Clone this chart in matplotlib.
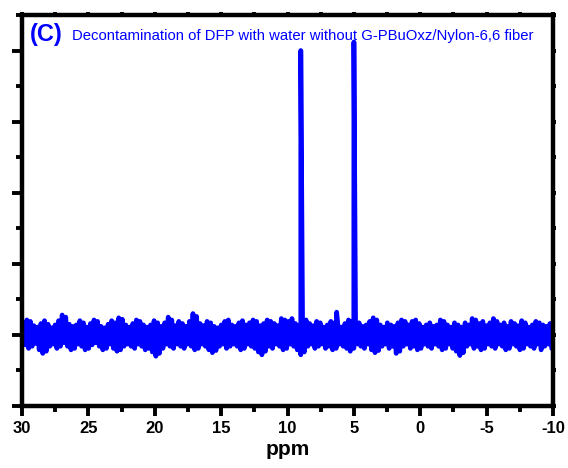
import matplotlib
matplotlib.use("Agg")
import matplotlib.pyplot as plt
import numpy as np
from matplotlib.ticker import MultipleLocator

plt.rcParams['font.family'] = ['Liberation Sans', 'DejaVu Sans']
plt.rcParams['axes.unicode_minus'] = False

# baseline noise: upper and lower excursions, left (30 ppm) to right (-10 ppm)
noise_hi = [0.17, 0.21, 0.19, 0.13, 0.11, 0.16, 0.20, 0.15, 0.10, 0.14, 0.20, 0.28, 0.25, 0.15, 0.12,
            0.14, 0.20, 0.17, 0.11, 0.16, 0.21, 0.19, 0.12, 0.10, 0.15, 0.20, 0.17, 0.24, 0.22, 0.14,
            0.11, 0.16, 0.21, 0.19, 0.14, 0.11, 0.14, 0.20, 0.17, 0.12, 0.17, 0.25, 0.21, 0.13, 0.19,
            0.16, 0.12, 0.19, 0.30, 0.26, 0.16, 0.13, 0.19, 0.17, 0.12, 0.10, 0.14, 0.19, 0.21, 0.14,
            0.12, 0.17, 0.20, 0.14, 0.17, 0.21, 0.19, 0.13, 0.16, 0.21, 0.19, 0.16, 0.13, 0.23, 0.21,
            0.19, 0.23, 0.16, 0.13, 0.19, 0.21, 0.16, 0.13, 0.19, 0.17, 0.11, 0.14, 0.19, 0.17, 0.13,
            0.11, 0.16, 0.21, 0.19, 0.14, 0.17, 0.12, 0.14, 0.19, 0.24, 0.21, 0.14, 0.11, 0.17, 0.14,
            0.12, 0.17, 0.21, 0.19, 0.14, 0.19, 0.21, 0.16, 0.11, 0.14, 0.17, 0.12, 0.14, 0.21, 0.19,
            0.14, 0.11, 0.17, 0.14, 0.11, 0.17, 0.14, 0.23, 0.21, 0.16, 0.19, 0.13, 0.17, 0.23, 0.19,
            0.14, 0.17, 0.12, 0.19, 0.16, 0.13, 0.20, 0.17, 0.11, 0.14, 0.19, 0.17, 0.14, 0.12, 0.16]
noise_lo = [-0.14, -0.19, -0.16, -0.12, -0.21, -0.26, -0.23, -0.16, -0.13, -0.19, -0.16, -0.11, -0.16, -0.21, -0.19,
            -0.13, -0.16, -0.21, -0.19, -0.14, -0.11, -0.16, -0.21, -0.19, -0.13, -0.19, -0.23, -0.21, -0.16, -0.13,
            -0.16, -0.19, -0.13, -0.16, -0.21, -0.19, -0.24, -0.30, -0.26, -0.19, -0.13, -0.16, -0.19, -0.13, -0.16,
            -0.19, -0.13, -0.16, -0.21, -0.19, -0.13, -0.16, -0.21, -0.25, -0.22, -0.16, -0.13, -0.19, -0.16, -0.13,
            -0.16, -0.21, -0.19, -0.13, -0.16, -0.19, -0.24, -0.28, -0.23, -0.16, -0.19, -0.13, -0.16, -0.21, -0.19,
            -0.13, -0.16, -0.21, -0.28, -0.24, -0.16, -0.13, -0.19, -0.16, -0.13, -0.19, -0.16, -0.21, -0.19, -0.13,
            -0.16, -0.19, -0.23, -0.19, -0.13, -0.16, -0.19, -0.13, -0.21, -0.25, -0.22, -0.16, -0.13, -0.19, -0.16,
            -0.26, -0.23, -0.16, -0.13, -0.19, -0.16, -0.21, -0.19, -0.13, -0.16, -0.19, -0.13, -0.16, -0.21, -0.19,
            -0.13, -0.19, -0.23, -0.29, -0.25, -0.16, -0.13, -0.19, -0.16, -0.21, -0.19, -0.13, -0.16, -0.19, -0.13,
            -0.16, -0.21, -0.19, -0.13, -0.16, -0.21, -0.19, -0.13, -0.16, -0.19, -0.13, -0.21, -0.16, -0.13, -0.19]

# signals
peak_ppm = [9.0, 6.3, 5.0]
peak_height = [4.0, 0.32, 4.12]

title = "Decontamination of DFP with water without G-PBuOxz/Nylon-6,6 fiber"
blue = '#0000ff'

noise = np.column_stack([noise_hi, noise_lo]).ravel()
ppm_grid = np.linspace(29.9, -9.9, len(noise))
ppm = np.concatenate([ppm_grid, peak_ppm])
inten = np.concatenate([noise, peak_height])
order = np.argsort(-ppm)
ppm, inten = ppm[order], inten[order]

fig = plt.figure(figsize=(5.68, 4.68), dpi=100)
ax = fig.add_axes([0.0387, 0.1325, 0.935, 0.8355])
ax.plot(ppm, inten, color=blue, lw=3.4, solid_joinstyle='round', solid_capstyle='round')

ax.set_xlim(30, -10)
ax.set_ylim(-1, 4.5)
ax.xaxis.set_major_locator(MultipleLocator(5))
ax.xaxis.set_minor_locator(MultipleLocator(2.5))
ax.yaxis.set_major_locator(MultipleLocator(1))
ax.yaxis.set_minor_locator(MultipleLocator(0.5))
ax.yaxis.set_major_formatter(plt.NullFormatter())

for s in ax.spines.values():
    s.set_linewidth(3.2)
ax.tick_params(which='major', direction='out', length=7, width=2.8, labelsize=12, pad=4)
ax.tick_params(which='minor', direction='out', length=4, width=2.8)
ax.tick_params(which='both', top=True, right=True, labeltop=False, labelright=False)
for tk in ax.xaxis.get_major_ticks() + ax.xaxis.get_minor_ticks():
    tk.tick2line.set_markersize(2)
for tk in ax.yaxis.get_major_ticks() + ax.yaxis.get_minor_ticks():
    tk.tick2line.set_markersize(2)
plt.setp(ax.get_xticklabels(), fontweight='bold')

ax.set_xlabel('ppm', fontsize=15, fontweight='bold', labelpad=3)

ax.text(0.015, 0.949, '(C)', transform=ax.transAxes, color=blue, fontsize=17,
        fontweight='bold', va='center', ha='left')
ax.text(0.094, 0.947, title, transform=ax.transAxes, color=blue, fontsize=10.7,
        va='center', ha='left')

fig.savefig('out.png', dpi=100)
